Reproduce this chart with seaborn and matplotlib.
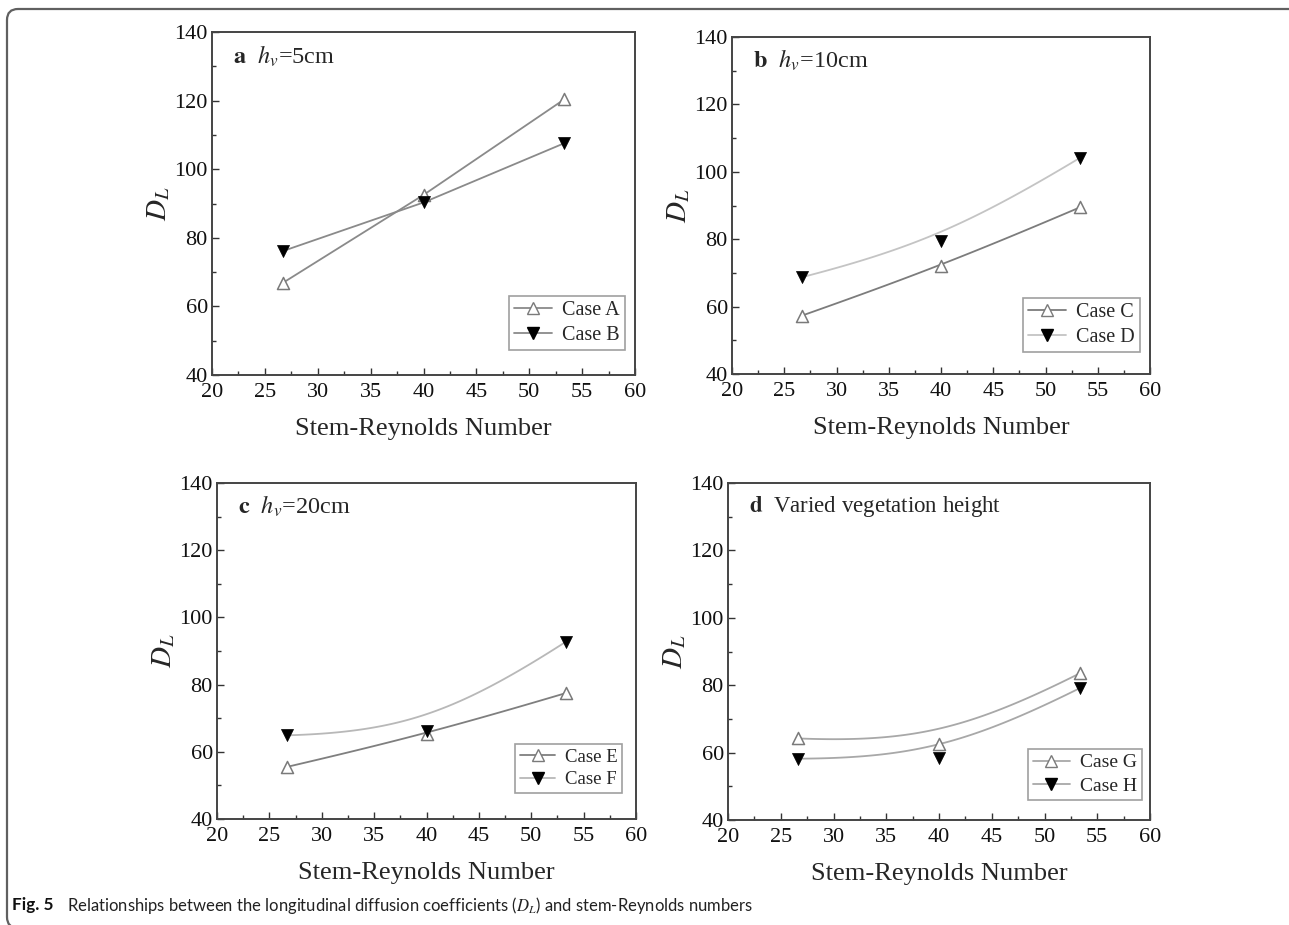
import numpy as np
import pandas as pd
import matplotlib
matplotlib.use("Agg")
import matplotlib.pyplot as plt
from matplotlib.lines import Line2D
from matplotlib.patches import FancyBboxPatch
from matplotlib.ticker import MultipleLocator
import seaborn as sns

# ---- data -------------------------------------------------------------
reynolds = [26.67, 40.0, 53.33]

case_a = [66.8, 92.5, 120.4]
case_b = [76.1, 90.3, 107.6]
case_c = [57.3, 71.9, 89.5]
case_d = [68.7, 79.4, 104.2]
case_e = [55.5, 65.2, 77.5]
case_f = [64.9, 66.1, 92.8]
case_g = [64.2, 62.6, 83.5]
case_h = [58.2, 58.4, 79.1]

panel_titles = [r"$\mathbf{a}$  $h_v$=5cm", r"$\mathbf{b}$  $h_v$=10cm",
                r"$\mathbf{c}$  $h_v$=20cm", r"$\mathbf{d}$  Varied vegetation height"]
series_names = [("Case A", "Case B"), ("Case C", "Case D"),
                ("Case E", "Case F"), ("Case G", "Case H")]
series_values = [(case_a, case_b), (case_c, case_d), (case_e, case_f), (case_g, case_h)]
smoothed = [False, True, True, True]

x_label = "Stem-Reynolds Number"
y_label = r"$D_L$"
caption_bold = "Fig. 5"
caption_text = r"Relationships between the longitudinal diffusion coefficients ($D_L$) and stem-Reynolds numbers"

# ---- style ------------------------------------------------------------
sns.set_theme(style="ticks")
plt.rcParams["font.family"] = ["Liberation Serif", "DejaVu Serif"]
plt.rcParams["mathtext.fontset"] = "stix"

open_line = [("#8a8a8a", "#8a8a8a"), ("#7c7c7c", "#c4c4c4"),
             ("#7f7f7f", "#b8b8b8"), ("#a8a8a8", "#a8a8a8")]
open_marker_edge = "#7a7a7a"
legend_sizes = [14.5, 14.5, 13.5, 14.0]
legend_anchor = [(0.976, 0.073), (0.976, 0.065), (0.967, 0.077), (0.98, 0.06)]


def smooth_curve(xs, ys, weight=1.5, n=120):
    """Rational quadratic Bezier through the end points, pulled toward the middle."""
    t = np.linspace(0, 1, n)
    b0, b1, b2 = (1 - t) ** 2, 2 * t * (1 - t) * weight, t ** 2
    den = b0 + b1 + b2
    px = (b0 * xs[0] + b1 * xs[1] + b2 * xs[2]) / den
    py = (b0 * ys[0] + b1 * ys[1] + b2 * ys[2]) / den
    return px, py


fig = plt.figure(figsize=(12.89, 9.25), dpi=100)

# outer rounded frame (pixel coordinates, origin bottom-left)
frame = FancyBboxPatch((7, -3), 1295, 919,
                       boxstyle="round,pad=0,rounding_size=11",
                       transform=None, fill=False,
                       edgecolor="#606060", linewidth=1.6)
fig.patches.append(frame)

positions = [
    [212 / 1289, (925 - 375) / 925, 423 / 1289, 343 / 925],
    [732 / 1289, (925 - 374) / 925, 418 / 1289, 337 / 925],
    [217 / 1289, (925 - 819) / 925, 419 / 1289, 336 / 925],
    [728 / 1289, (925 - 820) / 925, 422 / 1289, 337 / 925],
]

for i, pos in enumerate(positions):
    ax = fig.add_axes(pos)
    (name1, name2) = series_names[i]
    (vals1, vals2) = series_values[i]
    c1, c2 = open_line[i]

    for vals, col in ((vals1, c1), (vals2, c2)):
        if smoothed[i]:
            px, py = smooth_curve(reynolds, vals)
            df = pd.DataFrame({"x": px, "y": py})
        else:
            df = pd.DataFrame({"x": reynolds, "y": vals})
        sns.lineplot(data=df, x="x", y="y", ax=ax, color=col, linewidth=1.3,
                     sort=False, estimator=None, legend=False, zorder=2)

    d1 = pd.DataFrame({"x": reynolds, "y": vals1})
    d2 = pd.DataFrame({"x": reynolds, "y": vals2})
    sns.scatterplot(data=d1, x="x", y="y", ax=ax, marker="^", s=75,
                    facecolor="white", edgecolor=open_marker_edge, linewidth=1.1,
                    legend=False, zorder=3)
    sns.scatterplot(data=d2, x="x", y="y", ax=ax, marker="v", s=75,
                    color="black", edgecolor="black", linewidth=0.5,
                    legend=False, zorder=4)

    ax.set_xlim(20, 60)
    ax.set_ylim(40, 140)
    ax.xaxis.set_major_locator(MultipleLocator(5))
    ax.xaxis.set_minor_locator(MultipleLocator(2.5))
    ax.yaxis.set_major_locator(MultipleLocator(20))
    ax.yaxis.set_minor_locator(MultipleLocator(10))
    ax.tick_params(which="both", direction="in", colors="#333333", labelcolor="#111111")
    ax.tick_params(which="major", length=5, width=1.0, labelsize=16)
    ax.tick_params(which="minor", length=3, width=1.0)
    ax.tick_params(axis="x", which="major", pad=6)
    ax.tick_params(axis="y", which="major", pad=3)
    for sp in ax.spines.values():
        sp.set_visible(True)
        sp.set_color("#444444")
        sp.set_linewidth(1.4)

    ax.set_xlabel(x_label, fontsize=19, labelpad=11)
    ax.set_ylabel(y_label, fontsize=21, labelpad=2)

    ax.text(0.05, 0.93, panel_titles[i], transform=ax.transAxes,
            fontsize=17.5 if i < 3 else 16.5, ha="left", va="center")

    handles = [
        Line2D([], [], color=c1, linewidth=1.3, marker="^", markersize=8,
               markerfacecolor="white", markeredgecolor=open_marker_edge),
        Line2D([], [], color=c2, linewidth=1.3, marker="v", markersize=8,
               markerfacecolor="black", markeredgecolor="black"),
    ]
    leg = ax.legend(handles, [name1, name2], loc="lower right",
                    bbox_to_anchor=legend_anchor[i], fontsize=legend_sizes[i],
                    frameon=True, fancybox=False, handlelength=1.9,
                    handletextpad=0.5, borderpad=0.25, labelspacing=0.3,
                    borderaxespad=0)
    leg.get_frame().set_edgecolor("#888888")
    leg.get_frame().set_linewidth(1.2)

# caption
fig.text(12 / 1289, 1 - 905 / 925, caption_bold, fontsize=12.3, fontweight="bold",
         family=["Lato", "DejaVu Sans"], ha="left", va="center", color="#111111")
fig.text(67 / 1289, 1 - 905 / 925, caption_text, fontsize=12,
         family=["Lato", "DejaVu Sans"], ha="left", va="center", color="#222222")

fig.savefig("out.png", dpi=100)
